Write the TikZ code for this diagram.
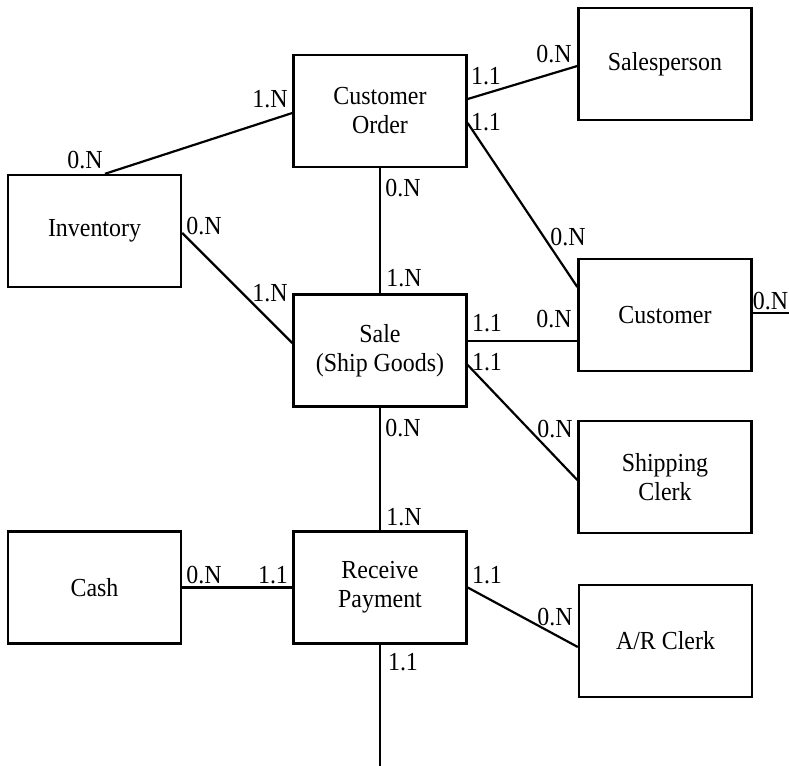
\documentclass[tikz,border=0pt]{standalone}
\usepackage{fontspec}
\setmainfont[FakeStretch=0.92]{Liberation Serif}
\tikzset{
    entity/.style={draw, line width=1.2pt, minimum width=86.5pt, minimum height=56pt, align=center, font=\fontsize{13}{14.5}\selectfont},
    card/.style={inner sep=0pt, font=\fontsize{13}{14.5}\selectfont},
    link/.style={line width=1.1pt}
}
\begin{document}
\begin{tikzpicture}[x=0.5pt, y=-0.5pt]
            \useasboundingbox ( 0, 0 ) rectangle ( 789, 766 );
            % сущности
            \node [entity] (order) at ( 380, 111 ) {Customer\\Order};
            \node [entity] (salesp) at ( 665, 64 ) {Salesperson};
            \node [entity] (inv) at ( 94.5, 231 ) {Inventory};
            \node [entity] (cust) at ( 665, 315 ) {Customer};
            \node [entity] (sale) at ( 380, 350.5 ) {Sale\\(Ship Goods)};
            \node [entity] (shipcl) at ( 665, 477 ) {Shipping\\Clerk};
            \node [entity] (cash) at ( 94.5, 587.5 ) {Cash};
            \node [entity] (recpay) at ( 380, 587.5 ) {Receive\\Payment};
            \node [entity] (arcl) at ( 665.5, 641 ) {A/R Clerk};

            % свободные концы
            \coordinate (down) at ( 380, 766 );
            \coordinate (out) at ( 789, 313 );

            % связи
            \draw [link] ([xshift=5.25pt]inv.north) -- ([yshift=-1pt]order.west);
            \draw [link] ([yshift=6pt]order.east) -- ([yshift=-1pt]salesp.west);
            \draw [link] ([yshift=-6pt]order.east) -- ([yshift=14pt]cust.west);
            \draw [link] (order.south) -- (sale.north);
            \draw [link] ([yshift=-1pt]inv.east) -- ([yshift=3.75pt]sale.west);
            \draw [link] ([yshift=4.75pt]sale.east) coordinate (s1) -- (s1 -| cust.west);
            \draw [link] ([yshift=-7.25pt]sale.east) -- ([yshift=-1.5pt]shipcl.west);
            \draw [link] (sale.south) -- (recpay.north);
            \draw [link] (cash.east) -- (recpay.west);
            \draw [link] (recpay.east) -- ([yshift=-3pt]arcl.west);
            \draw [link] (recpay.south) -- (down);
            \draw [link] (out -| cust.east) -- (out);

            % кратности
            \node [card] (k1) at ( 85, 160 ) {0.N};
            \node [card] (k2) at ( 270, 99 ) {1.N};
            \node [card] (k3) at ( 486, 76 ) {1.1};
            \node [card] (k4) at ( 554, 54 ) {0.N};
            \node [card] (k5) at ( 486, 122 ) {1.1};
            \node [card] (k6) at ( 568, 237 ) {0.N};
            \node [card] (k7) at ( 403, 188 ) {0.N};
            \node [card] (k8) at ( 404, 278 ) {1.N};
            \node [card] (k9) at ( 204, 226 ) {0.N};
            \node [card] (k10) at ( 270, 293 ) {1.N};
            \node [card] (k11) at ( 487, 323 ) {1.1};
            \node [card] (k12) at ( 554, 319 ) {0.N};
            \node [card] (k13) at ( 487, 362 ) {1.1};
            \node [card] (k14) at ( 555, 429 ) {0.N};
            \node [card] (k15) at ( 403, 428 ) {0.N};
            \node [card] (k16) at ( 404, 517 ) {1.N};
            \node [card] (k17) at ( 204, 575 ) {0.N};
            \node [card] (k18) at ( 273, 575 ) {1.1};
            \node [card] (k19) at ( 487, 575 ) {1.1};
            \node [card] (k20) at ( 555, 617 ) {0.N};
            \node [card] (k21) at ( 403, 662 ) {1.1};
            \node [card] (k22) at ( 770.5, 301 ) {0.N};
        \end{tikzpicture}
\end{document}
